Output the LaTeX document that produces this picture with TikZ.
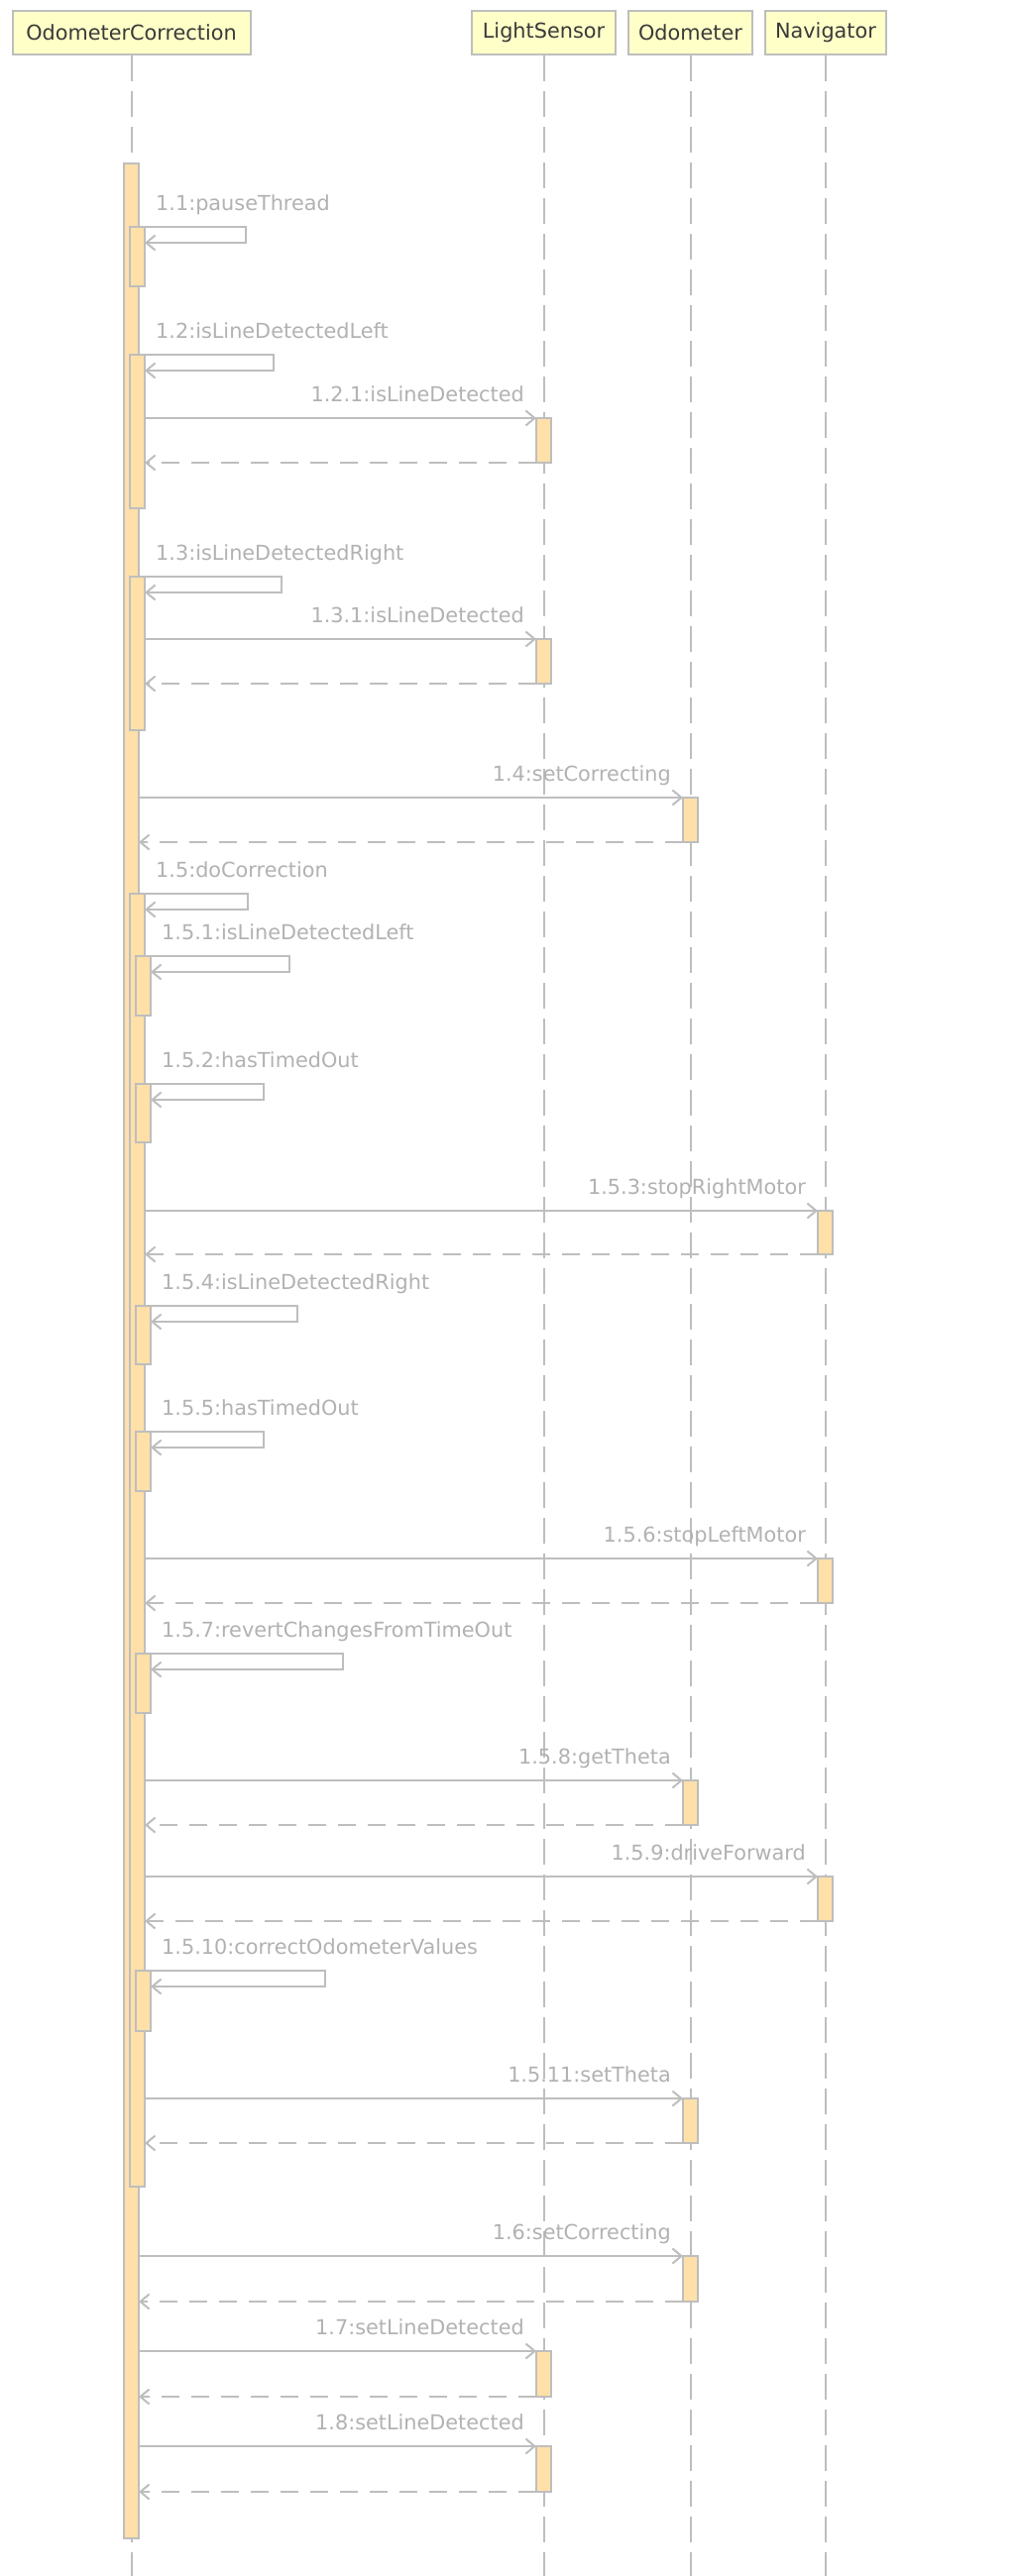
\documentclass[tikz,border=0pt]{standalone}
\usepackage{fontspec}
\setmainfont{DejaVu Sans}
\usetikzlibrary{arrows.meta}

\definecolor{edge}{HTML}{BEBEBE}
\definecolor{lbl}{HTML}{B2B2B2}
\definecolor{headfill}{HTML}{FFFFC8}
\definecolor{actfill}{HTML}{FFE0A8}
\definecolor{headtext}{HTML}{3A3A3A}

\tikzset{
  head/.style={draw=edge, fill=headfill, line width=2pt, minimum height=44pt,
    inner sep=0pt, text=headtext, font=\fontsize{20.8}{25}\selectfont},
  lifeline/.style={draw=edge, line width=2pt, dash pattern=on 26pt off 10pt},
  actbox/.style={draw=edge, fill=actfill, line width=2pt, minimum width=15pt,
    inner sep=0pt, outer sep=0pt, anchor=north west},
  msg/.style={draw=edge, line width=2pt, -{Straight Barb[length=9pt,width=15pt]}},
  reply/.style={msg, dash pattern=on 18pt off 12pt},
  selfmsg/.style={msg, line join=miter},
  lab/.style={text=lbl, inner sep=0pt, font=\fontsize{20.8}{25}\selectfont},
}

% activation bar: name, left x, top y, bottom y
\newcommand\actbar[4]{\node[actbox, minimum height={#4pt-#3pt}] (#1) at (#2,#3) {};}
% self call: label name, bar, loop width, text
\newcommand\selfcall[4]{%
  \draw[selfmsg] (#2.north east) -- ++(#3,0) -- ++(0,16) -- ++(-#3,0);
  \node[lab, anchor=base west] (#1) at ([shift={(11,-17)}]#2.north east) {#4};}
% synchronous call with reply: label name, caller bar, callee bar, text
\newcommand\callmsg[4]{%
  \draw[msg] (#2.east |- #3.north west) -- (#3.north west);
  \draw[reply] (#3.south west) -- (#2.east |- #3.south west);
  \node[lab, anchor=base east] (#1) at ([shift={(-12,-16.5)}]#3.north west) {#4};}

\begin{document}
\begin{tikzpicture}[x=1pt, y=-1pt]
\fill[white] (0,0) rectangle (1028,2600);
\useasboundingbox (0,0) rectangle (1028,2600);

% participants
\node[head, minimum width=240pt] (oc) at (132.5,33) {OdometerCorrection};
\node[head, minimum width=145pt] (ls) at (548.5,33) {LightSensor};
\node[head, minimum width=125pt] (od) at (696.5,33) {Odometer};
\node[head, minimum width=122pt] (nv) at (833,33) {Navigator};

% lifelines
\foreach \p in {oc,ls,od,nv}
  \draw[lifeline] (\p.south) -- (\p.south |- 0,2600);

% activations of OdometerCorrection
\actbar{main}{125}{165}{2562}
\actbar{b11}{131}{229}{289}
\actbar{b12}{131}{358}{513}
\actbar{b13}{131}{582}{737}
\actbar{b15}{131}{902}{2207}
\actbar{b151}{137}{965}{1025}
\actbar{b152}{137}{1094}{1153}
\actbar{b154}{137}{1318}{1377}
\actbar{b155}{137}{1445}{1505}
\actbar{b157}{137}{1669}{1729}
\actbar{b1510}{137}{1989}{2050}

% activations of LightSensor
\actbar{ls121}{541}{422}{467}
\actbar{ls131}{541}{645}{690}
\actbar{ls17}{541}{2373}{2419}
\actbar{ls18}{541}{2469}{2515}

% activations of Odometer
\actbar{od14}{689}{805}{850}
\actbar{od158}{689}{1797}{1842}
\actbar{od1511}{689}{2118}{2163}
\actbar{od16}{689}{2277}{2323}

% activations of Navigator
\actbar{nv153}{825}{1222}{1266}
\actbar{nv156}{825}{1573}{1618}
\actbar{nv159}{825}{1894}{1939}

% messages
\selfcall{m11}{b11}{102}{1.1:pauseThread}
\selfcall{m12}{b12}{130}{1.2:isLineDetectedLeft}
\callmsg{m121}{b12}{ls121}{1.2.1:isLineDetected}
\selfcall{m13}{b13}{138}{1.3:isLineDetectedRight}
\callmsg{m131}{b13}{ls131}{1.3.1:isLineDetected}
\callmsg{m14}{main}{od14}{1.4:setCorrecting}
\selfcall{m15}{b15}{104}{1.5:doCorrection}
\selfcall{m151}{b151}{140}{1.5.1:isLineDetectedLeft}
\selfcall{m152}{b152}{114}{1.5.2:hasTimedOut}
\callmsg{m153}{b15}{nv153}{1.5.3:stopRightMotor}
\selfcall{m154}{b154}{148}{1.5.4:isLineDetectedRight}
\selfcall{m155}{b155}{114}{1.5.5:hasTimedOut}
\callmsg{m156}{b15}{nv156}{1.5.6:stopLeftMotor}
\selfcall{m157}{b157}{194}{1.5.7:revertChangesFromTimeOut}
\callmsg{m158}{b15}{od158}{1.5.8:getTheta}
\callmsg{m159}{b15}{nv159}{1.5.9:driveForward}
\selfcall{m1510}{b1510}{176}{1.5.10:correctOdometerValues}
\callmsg{m1511}{b15}{od1511}{1.5.11:setTheta}
\callmsg{m16}{main}{od16}{1.6:setCorrecting}
\callmsg{m17}{main}{ls17}{1.7:setLineDetected}
\callmsg{m18}{main}{ls18}{1.8:setLineDetected}
\end{tikzpicture}
\end{document}
